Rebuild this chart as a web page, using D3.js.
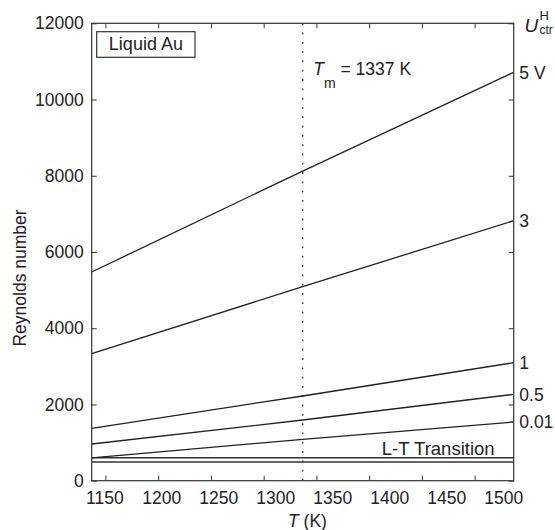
<!DOCTYPE html>
<html>
<head>
<meta charset="utf-8">
<script src="https://d3js.org/d3.v7.min.js"></script>
<style>
body { margin: 0; background: #fff; }
text { font-family: "Liberation Sans", Arial, sans-serif; fill: #222; }
</style>
</head>
<body>
<div class="vis"></div>
<script>
// temperatures (K) at which the curves were read
const temps = [1137, 1337, 1537];

// Reynolds number for each control voltage U_ctr^H
const seriesLabels = ["5 V", "3", "1", "0.5", "0.01"];
const re5V = [5475, 8124, 10713];
const re3V = [3332, 5089, 6821];
const re1V = [1374, 2222, 3096];
const re05V = [963, 1592, 2266];
const re001V = [600, 1086, 1540];
const seriesValues = [re5V, re3V, re1V, re05V, re001V];

// laminar-turbulent transition band
const ltLevels = [603, 490];

const meltT = 1337;
const xTicks = [1150, 1200, 1250, 1300, 1350, 1400, 1450, 1500];
const yTicks = [0, 2000, 4000, 6000, 8000, 10000, 12000];

// chart dimensions
const margin = { top: 23.3, right: 41.3, bottom: 49.3, left: 91.7 };
const width = 555 - margin.left - margin.right;
const height = 530 - margin.top - margin.bottom;

const root = d3.select(".vis")
  .append("svg")
  .attr("width", 555)
  .attr("height", 530);

const svg = root.append("g")
  .attr("transform", "translate(" + margin.left + "," + margin.top + ")");

const xScale = d3.scaleLinear().domain([1137, 1537]).range([0, width]);
const yScale = d3.scaleLinear().domain([0, 12000]).range([height, 0]);
// the printed tick labels sit on their own evenly spread positions
const xLabelScale = d3.scalePoint().domain(xTicks).range([12.6, 411.6]);

svg.append("clipPath").attr("id", "plot")
  .append("rect").attr("width", width).attr("height", height);

// axes: ticks point inward on all four sides
function styleAxis(g) {
  g.select(".domain").remove();
  g.selectAll("line").attr("stroke", "#333");
  g.attr("font-size", 17.5).attr("font-family", "Liberation Sans, Arial, sans-serif");
  g.selectAll("text").attr("fill", "#222");
}

svg.append("g")
  .attr("transform", "translate(0," + height + ")")
  .call(d3.axisBottom(xScale).tickValues(xTicks).tickSize(-5).tickFormat(""))
  .call(styleAxis);

svg.append("g")
  .call(d3.axisTop(xScale).tickValues(xTicks).tickSize(-5).tickFormat(""))
  .call(styleAxis);

svg.append("g")
  .attr("transform", "translate(0," + height + ")")
  .call(d3.axisBottom(xLabelScale).tickSize(0).tickPadding(11))
  .call(styleAxis);

svg.append("g")
  .call(d3.axisLeft(yScale).tickValues(yTicks).tickSize(-5).tickPadding(8).tickFormat(d3.format("d")))
  .call(styleAxis);

svg.append("g")
  .attr("transform", "translate(" + width + ",0)")
  .call(d3.axisRight(yScale).tickValues(yTicks).tickSize(-5).tickFormat(""))
  .call(styleAxis);

// frame
svg.append("rect")
  .attr("width", width)
  .attr("height", height)
  .attr("fill", "none")
  .attr("stroke", "#333")
  .attr("stroke-width", 1.2);

// melting point
svg.append("line")
  .attr("x1", xScale(meltT)).attr("x2", xScale(meltT))
  .attr("y1", 0).attr("y2", height)
  .attr("stroke", "#444")
  .attr("stroke-width", 1.4)
  .attr("stroke-dasharray", "1.8,7.5");

// L-T transition lines
svg.selectAll(".lt")
  .data(ltLevels)
  .enter().append("line")
  .attr("class", "lt")
  .attr("x1", 0).attr("x2", width)
  .attr("y1", d => yScale(d)).attr("y2", d => yScale(d))
  .attr("stroke", "#333")
  .attr("stroke-width", 1.6);

const line = d3.line()
  .x((d, i) => xScale(temps[i]))
  .y(d => yScale(d));

svg.append("g").attr("clip-path", "url(#plot)")
  .selectAll("path")
  .data(seriesValues)
  .enter().append("path")
  .attr("fill", "none")
  .attr("stroke", "#222")
  .attr("stroke-width", 1.3)
  .attr("d", line);

// voltage labels at the right end of each curve
svg.selectAll(".vlab")
  .data(seriesValues)
  .enter().append("text")
  .attr("class", "vlab")
  .attr("x", width + 5.6)
  .attr("y", d => yScale(d[d.length - 1]))
  .attr("dy", "0.36em")
  .attr("font-size", 17.5)
  .text((d, i) => seriesLabels[i]);

// "Liquid Au" box
svg.append("rect")
  .attr("x", 5).attr("y", 8.4)
  .attr("width", 98.3).attr("height", 25.6)
  .attr("fill", "#fff")
  .attr("stroke", "#333")
  .attr("stroke-width", 1.2);
svg.append("text")
  .attr("x", 54.2).attr("y", 26.7)
  .attr("text-anchor", "middle")
  .attr("font-size", 18)
  .text("Liquid Au");

// T_m annotation
const tm = svg.append("text")
  .attr("x", xScale(meltT) + 10.6)
  .attr("y", 51.7)
  .attr("font-size", 17.5);
tm.append("tspan").attr("font-style", "italic").text("T");
tm.append("tspan").attr("font-size", 14).attr("dy", 13).text("m");
tm.append("tspan").attr("dy", -13).text(" = 1337 K");

// L-T transition label
svg.append("text")
  .attr("x", 402.9)
  .attr("y", yScale(ltLevels[0]) - 3)
  .attr("text-anchor", "end")
  .attr("font-size", 18.5)
  .text("L-T Transition");

// axis titles
svg.append("text")
  .attr("transform", "rotate(-90)")
  .attr("x", -(278 - margin.top))
  .attr("y", 26 - margin.left)
  .attr("text-anchor", "middle")
  .attr("font-size", 17.5)
  .text("Reynolds number");

const xt = svg.append("text")
  .attr("x", 288 - margin.left)
  .attr("y", 527 - margin.top)
  .attr("font-size", 17.5);
xt.append("tspan").attr("font-style", "italic").text("T");
xt.append("tspan").text(" (K)");

// U_ctr^H title above the right axis
svg.append("text")
  .attr("x", 524.5 - margin.left)
  .attr("y", 31.7 - margin.top)
  .attr("font-size", 19)
  .attr("font-style", "italic")
  .text("U");
svg.append("text")
  .attr("x", 539.5 - margin.left)
  .attr("y", 19.5 - margin.top)
  .attr("font-size", 13)
  .text("H");
svg.append("text")
  .attr("x", 539.5 - margin.left)
  .attr("y", 33.5 - margin.top)
  .attr("font-size", 12)
  .text("ctr");
</script>
</body>
</html>
